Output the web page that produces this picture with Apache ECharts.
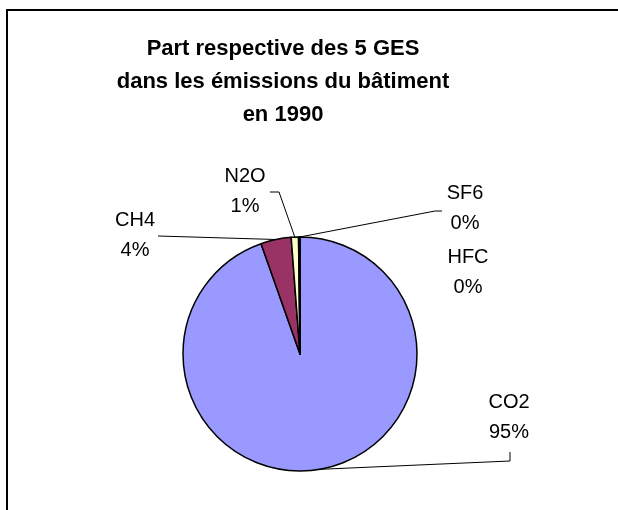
<!DOCTYPE html>
<html>
<head>
<meta charset="utf-8">
<script src="https://cdn.jsdelivr.net/npm/echarts@6/dist/echarts.min.js"></script>
<style>html,body{margin:0;padding:0;background:#fff;}#c{width:618px;height:510px;}</style>
</head>
<body>
<div id="c"></div>
<script>
var titleLines = ['Part respective des 5 GES', 'dans les émissions du bâtiment', 'en 1990'];
var categories = ['CO2', 'CH4', 'N2O', 'HFC', 'SF6'];
var values = [94.6, 4.2, 1.0, 0.15, 0.05];
var colors = ['#9999FF', '#993366', '#FFFFCC', '#CCFFFF', '#660066'];

var labelPos = {
  CO2: {x: 509, y: 417, line: [[510, 461], [510, 452]]},
  CH4: {x: 135, y: 235, line: [[158, 236]]},
  N2O: {x: 245, y: 191, line: [[279, 192], [270, 192]]},
  HFC: {x: 468, y: 272, line: null},
  SF6: {x: 465, y: 208, line: [[435, 211], [442, 211]]}
};

var chart = echarts.init(document.getElementById('c'));
chart.setOption({
  animation: false,
  backgroundColor: '#fff',
  title: {
    text: titleLines.join('\n'),
    left: 278, top: 27, textAlign: 'center',
    textStyle: {fontFamily: 'Liberation Sans, Arial', fontWeight: 'bold', fontSize: 22, lineHeight: 33, color: '#000'}
  },
  graphic: [{
    type: 'rect', shape: {x: 7, y: 10, width: 700, height: 600},
    style: {fill: 'none', stroke: '#000', lineWidth: 2}, silent: true
  }],
  series: [{
    type: 'pie',
    center: [300, 354],
    radius: 117,
    startAngle: 90,
    clockwise: true,
    avoidLabelOverlap: false,
    minShowLabelAngle: 0,
    data: categories.map(function (c, i) {
      return {name: c, value: values[i], itemStyle: {color: colors[i]},
        labelLine: {show: labelPos[c].line !== null}};
    }),
    itemStyle: {borderColor: '#000', borderWidth: 1.5},
    label: {
      show: true,
      formatter: function (p) { return p.name + '\n' + Math.round(p.percent) + '%'; },
      fontFamily: 'Liberation Sans, Arial', fontSize: 20, lineHeight: 30, color: '#000',
      align: 'center'
    },
    labelLine: {show: true, length: 10, length2: 10, lineStyle: {color: '#000', width: 1}},
    labelLayout: function (params) {
      var name = categories[params.dataIndex];
      var lp = labelPos[name];
      var res = {x: lp.x, y: lp.y, align: 'center', verticalAlign: 'middle'};
      if (lp.line && params.labelLinePoints) {
        res.labelLinePoints = [params.labelLinePoints[0]].concat(lp.line);
      }
      return res;
    }
  }]
});
</script>
</body>
</html>
